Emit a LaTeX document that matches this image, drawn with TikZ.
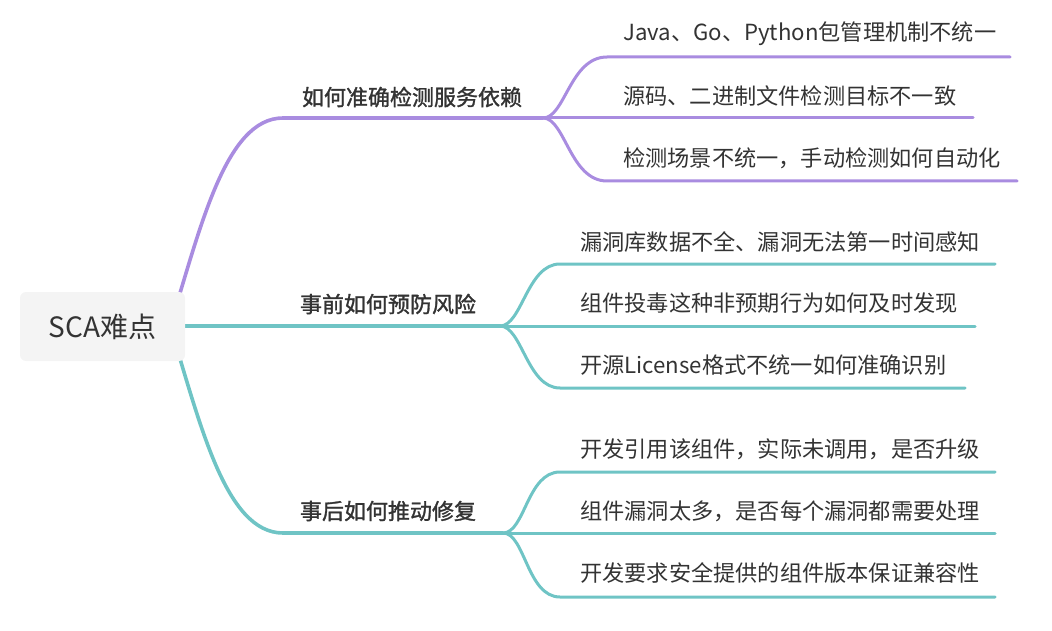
\documentclass[tikz,border=0pt]{standalone}
\usepackage{fontspec}
\setmainfont{Noto Sans CJK SC}
\newfontfamily\cjkbold[FakeBold=1.3]{Noto Sans CJK SC}
\definecolor{purp}{HTML}{A98CE0}
\definecolor{teal2}{HTML}{6FC4C5}
\definecolor{txt}{HTML}{333333}
\definecolor{rootfill}{HTML}{F4F4F4}
\begin{document}
\begin{tikzpicture}[x=1pt,y=-1pt,
  mainline/.style={line width=3.6pt,line cap=round},
  subline/.style={line width=3pt,line cap=round},
  lbl/.style={font=\fontsize{22}{22}\selectfont\cjkbold,text=txt,inner sep=0pt},
  item/.style={font=\fontsize{22.2}{22.2}\selectfont,text=txt,inner sep=0pt,anchor=west},
  rootbox/.style={fill=rootfill,rounded corners=6pt,minimum width=165pt,minimum height=69pt,inner sep=0pt,font=\fontsize{28}{28}\selectfont,text=txt}]
\useasboundingbox (0,0) rectangle (1052,631);
% coordinates
\coordinate (r) at (170,326);
\coordinate (a1) at (283,118);
\coordinate (a2) at (543,118);
\coordinate (b2) at (500,326);
\coordinate (c1) at (283,533);
\coordinate (c2) at (503,533);
\coordinate (a11) at (607,57);  \coordinate (a1e) at (1010,57);
\coordinate (a2e) at (973,118);
\coordinate (a33) at (607,181); \coordinate (a3e) at (1017,181);
\coordinate (b11) at (560,264); \coordinate (b1e) at (995,264);
\coordinate (b2e) at (975,326);
\coordinate (b33) at (560,388); \coordinate (b3e) at (965,388);
\coordinate (c11) at (560,472); \coordinate (c1e) at (995,472);
\coordinate (c2e) at (995,533);
\coordinate (c33) at (560,597); \coordinate (c3e) at (995,597);
% branch 1
\draw[purp,mainline] (r) .. controls (200,230) and (225,118) .. (a1) -- (a2);
\draw[purp,subline] (a2) .. controls (565,118) and (570,57) .. (a11) -- (a1e);
\draw[purp,subline] (a2) -- (a2e);
\draw[purp,subline] (a2) .. controls (565,118) and (570,181) .. (a33) -- (a3e);
% branch 2
\draw[teal2,mainline] (r) -- (b2);
\draw[teal2,subline] (b2) .. controls (522,326) and (527,264) .. (b11) -- (b1e);
\draw[teal2,subline] (b2) -- (b2e);
\draw[teal2,subline] (b2) .. controls (522,326) and (527,388) .. (b33) -- (b3e);
% branch 3
\draw[teal2,mainline] (r) .. controls (200,422) and (225,533) .. (c1) -- (c2);
\draw[teal2,subline] (c2) .. controls (525,533) and (527,472) .. (c11) -- (c1e);
\draw[teal2,subline] (c2) -- (c2e);
\draw[teal2,subline] (c2) .. controls (525,533) and (527,597) .. (c33) -- (c3e);
% root
\node[rootbox] (root) at (102.5,326.5) {SCA难点};
% labels
\node[lbl] (l1) at (412,97) {如何准确检测服务依赖};
\node[lbl] (l2) at (388,304) {事前如何预防风险};
\node[lbl] (l3) at (388,511) {事后如何推动修复};
% items
\node[item] (i11) at (623,34) {Java、Go、Python包管理机制不统一};
\node[item] (i12) at (623,96) {源码、二进制文件检测目标不一致};
\node[item] (i13) at (623,158) {检测场景不统一，手动检测如何自动化};
\node[item] (i21) at (580,242) {漏洞库数据不全、漏洞无法第一时间感知};
\node[item] (i22) at (580,303) {组件投毒这种非预期行为如何及时发现};
\node[item] (i23) at (580,365) {开源License格式不统一如何准确识别};
\node[item] (i31) at (580,449) {开发引用该组件，实际未调用，是否升级};
\node[item] (i32) at (580,511) {组件漏洞太多，是否每个漏洞都需要处理};
\node[item] (i33) at (580,573) {开发要求安全提供的组件版本保证兼容性};
\end{tikzpicture}
\end{document}
